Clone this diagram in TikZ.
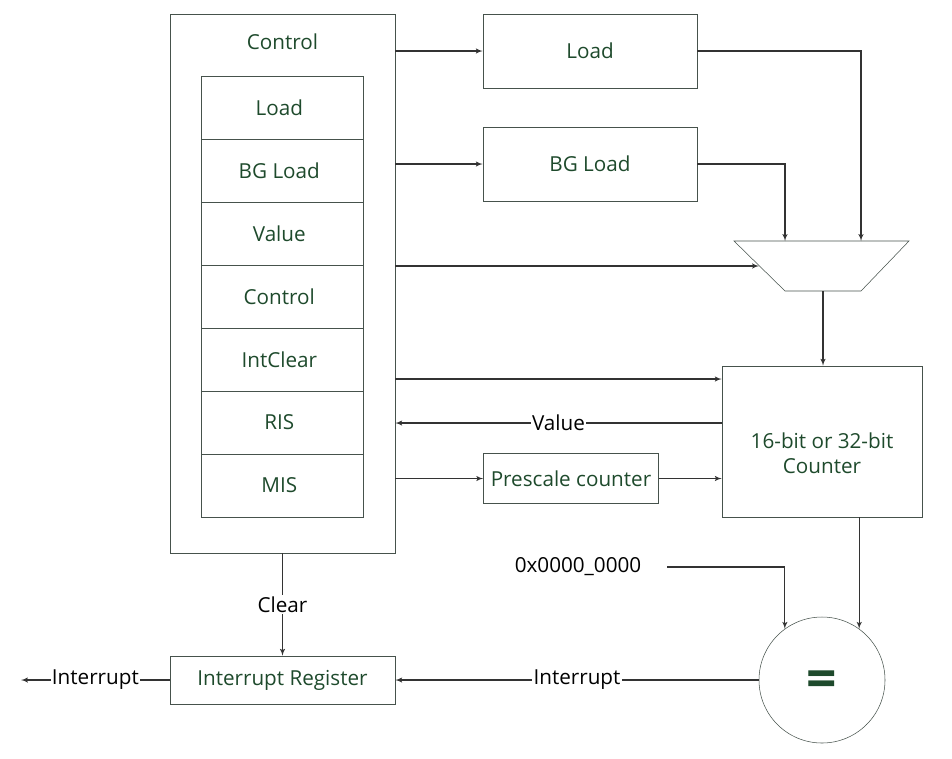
\documentclass[tikz,border=0pt]{standalone}
\usepackage{fontspec}
\setmainfont{Open Sans}
\usepackage{tikz}
\usetikzlibrary{arrows}
\usetikzlibrary{matrix}
\usetikzlibrary{positioning}

\definecolor{blktext}{HTML}{1E4A2C}
\definecolor{blkline}{HTML}{46524C}

\tikzset{
  blk/.style={draw=blkline,rectangle,text=blktext,inner sep=0pt,align=center},
  reg/.style={blk,minimum width=121.5pt,minimum height=47.25pt},
  wire/.style={draw=black!80,line width=0.8pt,->,>=latex'},
  tag/.style={fill=white,inner sep=1pt,text=black}
}

\begin{document}
\begin{tikzpicture}[x=0.75pt,y=-0.75pt,font=\fontsize{15.5}{19}\selectfont]

  \useasboundingbox (0,0) rectangle (952,758);

  % register block
  \node [blk,minimum width=168.75pt,minimum height=404.25pt] (ctl) at (282.5,283.5) {};
  \node [text=blktext] (ctllab) at (282.5,42) {Control};

  \matrix (regs) [matrix of nodes,row sep=-\pgflinewidth,inner sep=0pt,nodes={reg}] at (282,296.5) {
    Load \\
    BG Load \\
    Value \\
    Control \\
    IntClear \\
    RIS \\
    MIS \\
  };

  \node [blk,minimum width=160.5pt,minimum height=55.5pt] (load) at (590,51) {Load};
  \node [blk,minimum width=160.5pt,minimum height=55.5pt] (bgload) at (590,164) {BG Load};

  % mux
  \coordinate (muxin1) at (785,241);
  \coordinate (muxin2) at (861,241);
  \coordinate (muxw) at (759,266);
  \coordinate (muxs) at (823,291);
  \draw [blkline] (734,241) -- (909,241) -- (861,291) -- (785,291) -- cycle;

  \node [blk,minimum width=150pt,minimum height=113.25pt] (cnt) at (822,441.5) {};
  \node [text=blktext,align=center] (cntlab) at (822,453) {16-bit or 32-bit\\Counter};

  \node [blk,minimum width=131.25pt,minimum height=37.5pt] (prescale) at (571,478.5) {Prescale counter};

  \node [circle,draw=blkline,minimum size=94.5pt,inner sep=0pt] (cmp) at (822,680) {};
  \node [text=blktext,font=\fontsize{40}{40}\selectfont\bfseries] (cmplab) at (822,684) {=};

  \node [blk,minimum width=168.75pt,minimum height=36pt] (intreg) at (282.5,680) {Interrupt Register};

  \node [text=black] (zero) at (578,567) {0x0000\_0000};

  \coordinate (zerotail) at (667,567);
  \coordinate (irqout) at (21,680);

  \path
    (ctl.east |- load.west)     edge [wire] (load.west)
    (ctl.east |- bgload.west)   edge [wire] (bgload.west)
    (ctl.east |- muxw)          edge [wire] (muxw)
    (muxs)                      edge [wire] (cnt.north -| muxs)
    (ctl.east |- 0,379)         edge [wire] (cnt.west |- 0,379)
    (ctl.east |- prescale.west) edge [wire] (prescale.west)
    (prescale.east)             edge [wire] (cnt.west |- prescale.east)
    (cmp.54 |- cnt.south)       edge [wire] (cmp.54);

  \draw [wire] (load.east) -| (muxin2);
  \draw [wire] (bgload.east) -| (muxin1);
  \draw [wire] (zerotail) -| (cmp.126);

  \draw [wire] (cnt.west |- 0,423) -- node [tag] {Value} (ctl.east |- 0,423);
  \draw [wire] (ctl.south) -- node [tag] {Clear} (intreg.north);
  \draw [wire] (cmp.west) -- node [tag] {Interrupt} (intreg.east);
  \draw [wire] (intreg.west) -- node [tag] {Interrupt} (irqout);

\end{tikzpicture}
\end{document}
